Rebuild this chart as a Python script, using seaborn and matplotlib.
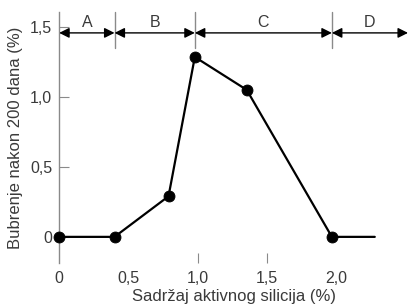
import matplotlib
matplotlib.use("Agg")
import matplotlib.pyplot as plt
import seaborn as sns

# measured points
silica = [0, 0.4, 0.79, 0.98, 1.355, 1.97]
swelling = [0, 0, 0.29, 1.285, 1.05, 0]
# line continues past the last point without a marker
line_x = silica + [2.28]
line_y = swelling + [0]

# zones A-D
zone_names = ["A", "B", "C", "D"]
zone_edges = [0, 0.4, 0.98, 1.97, 2.52]

xticks = [0, 0.5, 1.0, 1.5, 2.0]
xtick_labels = ["0", "0,5", "1,0", "1,5", "2,0"]
yticks = [0, 0.5, 1.0, 1.5]
ytick_labels = ["0", "0,5", "1,0", "1,5"]

sns.set_style("white")
plt.rcParams["font.family"] = ["Liberation Sans", "DejaVu Sans"]
txt = "#3a3a3a"
grey = "#8a8a8a"

fig = plt.figure(figsize=(4.08, 3.05), dpi=100)
ax = fig.add_axes([0.145, 0.138, 0.855, 0.823])

sns.lineplot(x=line_x, y=line_y, color="black", lw=1.6, ax=ax, sort=False)
sns.scatterplot(x=silica, y=swelling, color="black", s=62, edgecolor="black",
                zorder=5, ax=ax, clip_on=False)

ax.set_xlim(0, 2.52)
ax.set_ylim(-0.186, 1.607)

# zone separators and arrows
for e in zone_edges[1:-1]:
    ax.plot([e, e], [1.35, 1.607], color=grey, lw=1, clip_on=False)
for i, name in enumerate(zone_names):
    a, b = zone_edges[i], zone_edges[i + 1]
    ax.annotate("", xy=(b, 1.457), xytext=(a, 1.457),
                arrowprops=dict(arrowstyle="<|-|>", color="black", lw=1.0,
                                shrinkA=0, shrinkB=0, mutation_scale=15))
    ax.text((a + b) / 2, 1.475, name, ha="center", va="bottom", fontsize=11.5,
            color=txt)

ax.set_xticks(xticks)
ax.set_xticklabels(xtick_labels)
ax.set_yticks(yticks)
ax.set_yticklabels(ytick_labels)
ax.tick_params(axis="y", direction="in", length=7, color=grey, labelsize=11.5,
               labelcolor=txt, pad=5, left=True)
ax.tick_params(axis="x", direction="in", length=7, color=grey, labelsize=11.5,
               labelcolor=txt, pad=6, bottom=True)
for i, t in enumerate(ax.xaxis.get_major_ticks()):
    if i not in (2, 3):
        t.tick1line.set_visible(False)

for s in ["top", "right", "bottom"]:
    ax.spines[s].set_visible(False)
ax.spines["left"].set_color(grey)
ax.spines["left"].set_linewidth(1)

ax.set_xlabel("Sadržaj aktivnog silicija (%)", fontsize=12, color=txt, labelpad=2)
ax.set_ylabel("Bubrenje nakon 200 dana (%)", fontsize=12, color=txt, labelpad=5)

fig.savefig("out.png", dpi=100)
